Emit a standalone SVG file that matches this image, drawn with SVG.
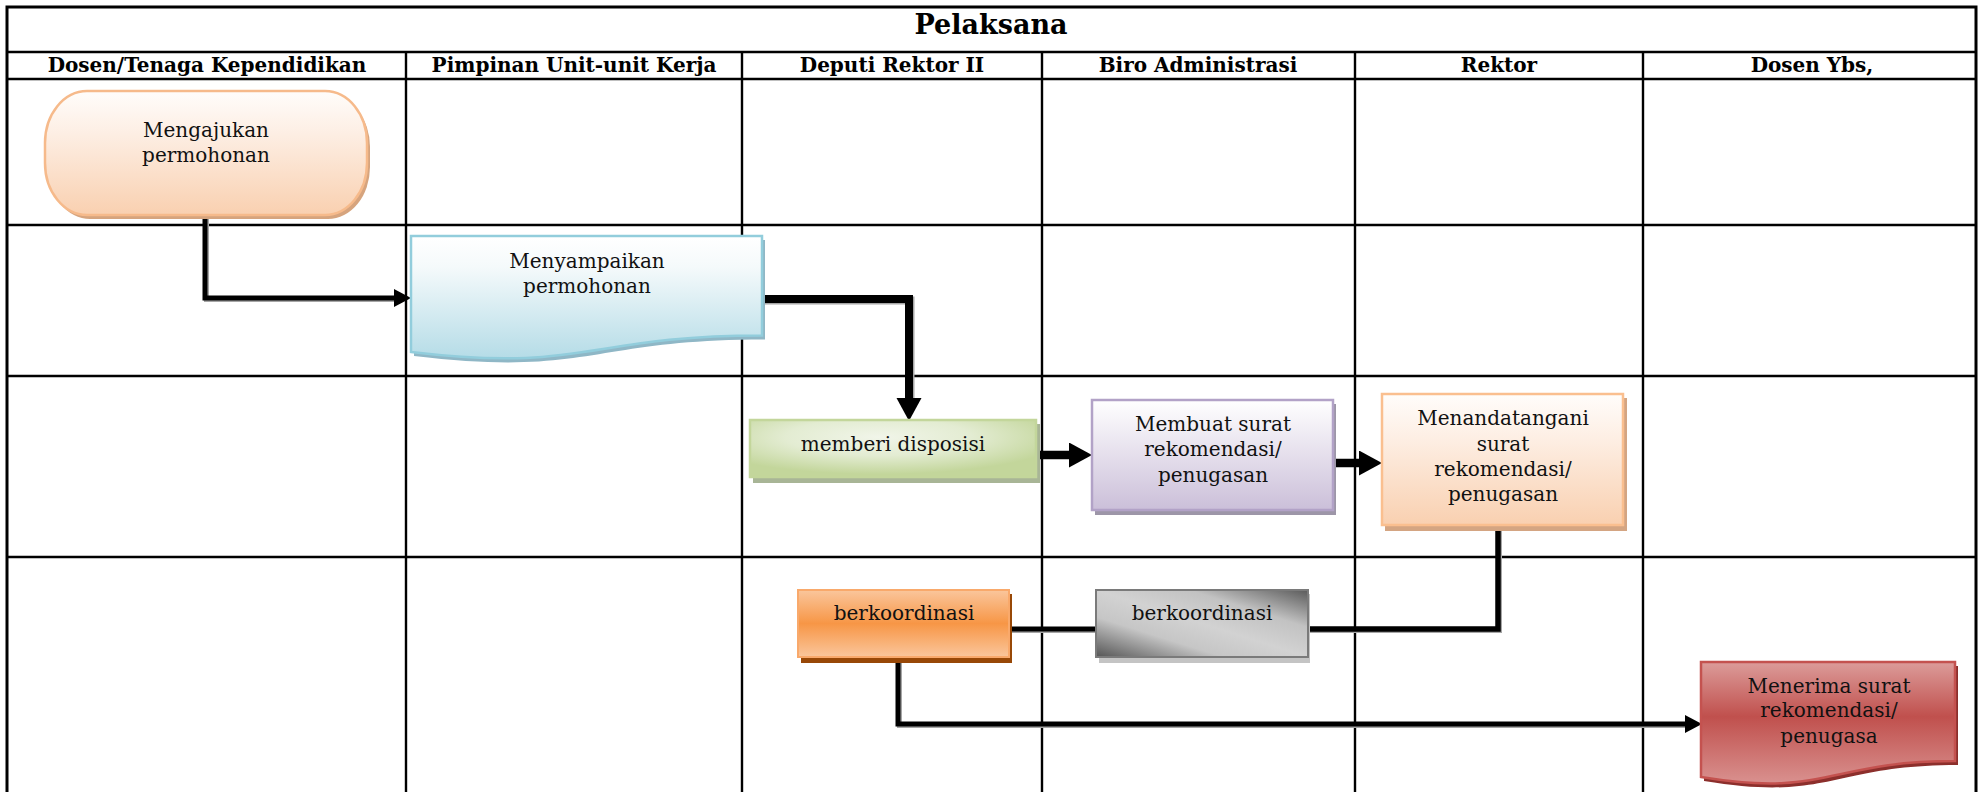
<svg xmlns="http://www.w3.org/2000/svg" width="1980" height="792" viewBox="0 0 1980 792">
  <style>
    .grid { stroke: #000; stroke-width: 2.4; fill: none; }
    .outer { stroke: #000; stroke-width: 3; fill: none; }
    .title { font-family: "DejaVu Serif", "Liberation Serif", serif; font-weight: bold; font-size: 27px; fill: #000; text-anchor: middle; }
    .head { font-family: "DejaVu Serif", "Liberation Serif", serif; font-weight: bold; font-size: 20px; fill: #000; text-anchor: middle; }
    .lbl { font-family: "DejaVu Serif", "Liberation Serif", serif; font-size: 20px; fill: #111; text-anchor: middle; }
    .conn { fill: none; stroke: #000; stroke-linejoin: miter; stroke-linecap: butt; }
    .conn-sh { fill: none; stroke: #a6a6a6; stroke-linejoin: miter; }
  </style>
  <defs>
    <linearGradient id="gPeach" x1="0" y1="0" x2="0" y2="1">
      <stop offset="0" stop-color="#fffdfb"/>
      <stop offset="0.35" stop-color="#fdeee3"/>
      <stop offset="1" stop-color="#f9d0b0"/>
    </linearGradient>
    <linearGradient id="gBlue" x1="0" y1="0" x2="0" y2="1">
      <stop offset="0" stop-color="#ffffff"/>
      <stop offset="0.25" stop-color="#f5fafb"/>
      <stop offset="1" stop-color="#b5dce7"/>
    </linearGradient>
    <linearGradient id="gLav" x1="0" y1="0" x2="0" y2="1">
      <stop offset="0" stop-color="#ffffff"/>
      <stop offset="1" stop-color="#cbbfd9"/>
    </linearGradient>
    <radialGradient id="gGreen" cx="0.45" cy="0.3" r="0.65">
      <stop offset="0" stop-color="#f1f5e9"/>
      <stop offset="0.5" stop-color="#e3ecd2"/>
      <stop offset="1" stop-color="#c3d69b"/>
    </radialGradient>
    <linearGradient id="gOrange" x1="0" y1="0" x2="0" y2="1">
      <stop offset="0" stop-color="#fac69c"/>
      <stop offset="0.5" stop-color="#f79646"/>
      <stop offset="1" stop-color="#fac69c"/>
    </linearGradient>
    <linearGradient id="gGray" x1="0" y1="1" x2="1" y2="0">
      <stop offset="0" stop-color="#555555"/>
      <stop offset="0.3" stop-color="#c6c6c6"/>
      <stop offset="0.5" stop-color="#d2d2d2"/>
      <stop offset="0.72" stop-color="#c2c2c2"/>
      <stop offset="1" stop-color="#5a5a5a"/>
    </linearGradient>
    <linearGradient id="gRed" x1="0" y1="0" x2="0" y2="1">
      <stop offset="0" stop-color="#dc9c9a"/>
      <stop offset="0.45" stop-color="#c0504d"/>
      <stop offset="1" stop-color="#d9918f"/>
    </linearGradient>
    <marker id="arrS" markerUnits="userSpaceOnUse" markerWidth="18" markerHeight="20" refX="0" refY="9" orient="auto">
      <path d="M0,0 L17,9 L0,18 Z" fill="#000"/>
    </marker>
    <marker id="arrL" markerUnits="userSpaceOnUse" markerWidth="24" markerHeight="27" refX="0" refY="12.5" orient="auto">
      <path d="M0,0 L23,12.5 L0,25 Z" fill="#000"/>
    </marker>
  </defs>

  <rect width="1980" height="792" fill="#fff"/>

  <!-- table frame -->
  <g id="table">
    <rect class="outer" x="7" y="7" width="1969" height="800"/>
    <line class="grid" x1="7" y1="52" x2="1976" y2="52"/>
    <line class="grid" x1="7" y1="79" x2="1976" y2="79"/>
    <line class="grid" x1="7" y1="225" x2="1976" y2="225"/>
    <line class="grid" x1="7" y1="376" x2="1976" y2="376"/>
    <line class="grid" x1="7" y1="557" x2="1976" y2="557"/>
    <line class="grid" x1="406" y1="52" x2="406" y2="792"/>
    <line class="grid" x1="742" y1="52" x2="742" y2="792"/>
    <line class="grid" x1="1042" y1="52" x2="1042" y2="792"/>
    <line class="grid" x1="1355" y1="52" x2="1355" y2="792"/>
    <line class="grid" x1="1643" y1="52" x2="1643" y2="792"/>
    <text class="title" x="991" y="34">Pelaksana</text>
    <text class="head" x="207" y="72">Dosen/Tenaga Kependidikan</text>
    <text class="head" x="574" y="72">Pimpinan Unit-unit Kerja</text>
    <text class="head" x="892" y="72">Deputi Rektor II</text>
    <text class="head" x="1198" y="72">Biro Administrasi</text>
    <text class="head" x="1499" y="72">Rektor</text>
    <text class="head" x="1812" y="72">Dosen Ybs,</text>
  </g>

  <!-- connectors -->
  <g id="connectors">
    <path class="conn-sh" stroke-width="5" d="M206.5,216 V299.5 H394"/>
    <path class="conn" stroke-width="5" d="M205,216 V298 H394" marker-end="url(#arrS)"/>
    <path class="conn-sh" stroke-width="8" d="M762,300.5 H910.5 V398"/>
    <path class="conn" stroke-width="8" d="M762,299 H909 V398" marker-end="url(#arrL)"/>
    <path class="conn" stroke-width="8.5" d="M1036,455 H1069" marker-end="url(#arrL)"/>
    <path class="conn" stroke-width="8.5" d="M1334,463 H1359" marker-end="url(#arrL)"/>
    <path class="conn-sh" stroke-width="5" d="M1499.5,525 V630.5 H1308"/>
    <path class="conn" stroke-width="5.5" d="M1498,525 V629 H1308"/>
    <path class="conn-sh" stroke-width="5" d="M1096,630.5 H1009"/>
    <path class="conn" stroke-width="5" d="M1096,629 H1009"/>
    <path class="conn-sh" stroke-width="5" d="M899.5,657 V725.5 H1685"/>
    <path class="conn" stroke-width="5" d="M898,657 V724 H1685" marker-end="url(#arrS)"/>
  </g>

  <!-- Dosen/Tenaga Kependidikan: start -->
  <g id="node-mengajukan">
    <rect x="48" y="95" width="322" height="124" rx="42" ry="52" fill="#d6a47e"/>
    <rect x="45" y="91" width="322" height="124" rx="42" ry="52" fill="url(#gPeach)" stroke="#f6ba8b" stroke-width="2.5"/>
    <text class="lbl"><tspan x="206" y="137">Mengajukan</tspan><tspan x="206" y="162">permohonan</tspan></text>
  </g>

  <!-- Pimpinan Unit-unit Kerja -->
  <g id="node-menyampaikan">
    <path d="M414,240 H765 V339.5 C589.5,339.5 589.5,377 414,356 Z" fill="#8fb7c6"/>
    <path d="M411,236 H762 V335.5 C586.5,335.5 586.5,373 411,352 Z" fill="url(#gBlue)" stroke="#92cddc" stroke-width="2.5"/>
    <text class="lbl"><tspan x="587" y="268">Menyampaikan</tspan><tspan x="587" y="293">permohonan</tspan></text>
  </g>

  <!-- Deputi Rektor II -->
  <g id="node-disposisi">
    <rect x="753" y="424" width="287" height="59" fill="#a8b596"/>
    <rect x="750" y="420" width="286" height="57" fill="url(#gGreen)" stroke="#c3d69b" stroke-width="2.5"/>
    <text class="lbl" x="893" y="451">memberi disposisi</text>
  </g>

  <!-- Biro Administrasi -->
  <g id="node-membuat">
    <rect x="1095" y="404" width="241" height="111" fill="#9d96a8"/>
    <rect x="1092" y="400" width="241" height="110" fill="url(#gLav)" stroke="#b2a2c7" stroke-width="2.5"/>
    <text class="lbl"><tspan x="1213" y="431">Membuat surat</tspan><tspan x="1213" y="456">rekomendasi/</tspan><tspan x="1213" y="482">penugasan</tspan></text>
  </g>

  <!-- Rektor -->
  <g id="node-menandatangani">
    <rect x="1385" y="398" width="242" height="133" fill="#d4a582"/>
    <rect x="1382" y="394" width="241" height="131" fill="url(#gPeach)" stroke="#fabf8f" stroke-width="2.5"/>
    <text class="lbl"><tspan x="1503" y="425">Menandatangani</tspan><tspan x="1503" y="451">surat</tspan><tspan x="1503" y="476">rekomendasi/</tspan><tspan x="1503" y="501">penugasan</tspan></text>
  </g>

  <!-- Deputi Rektor II: koordinasi -->
  <g id="node-koordinasi-deputi">
    <rect x="801" y="594" width="211" height="69" fill="#984807"/>
    <rect x="798" y="590" width="211" height="67" fill="url(#gOrange)" stroke="#f9a96b" stroke-width="2"/>
    <text class="lbl" x="904" y="620">berkoordinasi</text>
  </g>

  <!-- Biro Administrasi: koordinasi -->
  <g id="node-koordinasi-biro">
    <rect x="1099" y="594" width="211" height="69" fill="#c4c4c4"/>
    <rect x="1096" y="590" width="212" height="67" fill="url(#gGray)" stroke="#7a7a7a" stroke-width="2"/>
    <text class="lbl" x="1202" y="620">berkoordinasi</text>
  </g>

  <!-- Dosen Ybs, -->
  <g id="node-menerima">
    <path d="M1704,666 H1958 V765 C1831,765 1831,802 1704,781 Z" fill="#8c2f2c"/>
    <path d="M1701,662 H1955 V761 C1828,761 1828,798 1701,777 Z" fill="url(#gRed)" stroke="#c4524f" stroke-width="2.5"/>
    <text class="lbl"><tspan x="1829" y="693">Menerima surat</tspan><tspan x="1829" y="717">rekomendasi/</tspan><tspan x="1829" y="743">penugasa</tspan></text>
  </g>
</svg>
